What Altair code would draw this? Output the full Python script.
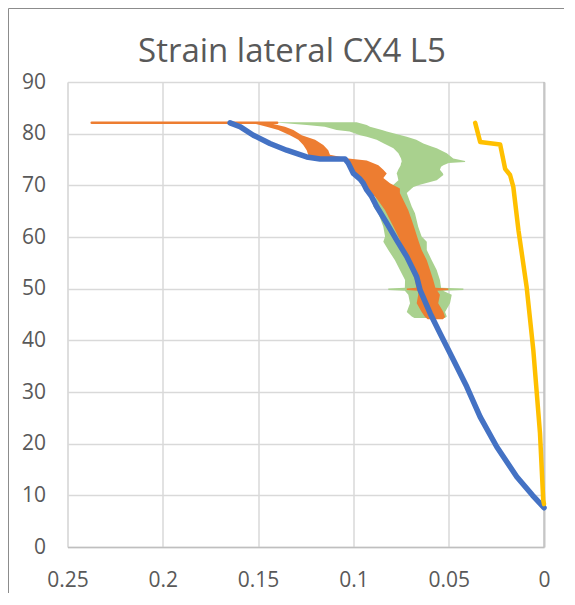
import altair as alt
import pandas as pd

TITLE = "Strain lateral CX4 L5"
x_ticks = [0.25, 0.2, 0.15, 0.1, 0.05, 0]
y_ticks = [0, 10, 20, 30, 40, 50, 60, 70, 80, 90]

# Blue series (x = strain, y = load)
blue_x = [0.0, 0.006, 0.0143, 0.0248, 0.0335, 0.0405, 0.0475, 0.0545, 0.0597, 0.065,
          0.0668, 0.072, 0.0773, 0.0825, 0.0878, 0.0904, 0.093, 0.0948, 0.0965, 0.1,
          0.1027, 0.1044, 0.1175, 0.1245, 0.135, 0.1438, 0.1525, 0.1595, 0.1647]
blue_y = [7.6, 10.0, 13.6, 19.4, 25.2, 31.0, 36.2, 41.3, 45.2, 49.7,
          52.3, 56.2, 59.4, 62.7, 65.9, 67.8, 69.1, 70.4, 71.2, 72.3,
          74.3, 75.1, 75.1, 75.5, 76.8, 78.1, 79.7, 81.35, 82.1]

# Yellow series
yellow_x = [0.0, 0.0004, 0.0021, 0.0056, 0.0091, 0.0134, 0.0161, 0.0178, 0.0204, 0.023, 0.0335, 0.0361]
yellow_y = [8.3, 9.1, 22.0, 38.1, 50.3, 61.3, 69.7, 72.0, 73.2, 77.9, 78.4, 82.1]

# Orange series: flat top segment and noisy band (band edges per load level)
orange_line_x = [0.2373, 0.14]
orange_line_y = [82.1, 82.1]
orange_band_y = [44.1, 44.5, 45.5, 47.2, 48.8, 49.6, 49.75, 50.05, 50.2, 51.7, 53.6, 55.5,
                 57.5, 59.4, 61.4, 63.3, 65.2, 67.3, 68.5, 69.4, 70.4, 71.4, 72.3, 73.0,
                 73.9, 74.8, 75.2, 75.9, 76.8, 77.8, 78.8, 79.7, 80.7, 81.35, 82.0]
orange_band_lo = [0.053, 0.0519, 0.0528, 0.0555, 0.0546, 0.056, 0.0502, 0.0502, 0.057, 0.0581, 0.0598, 0.0615,
                  0.0642, 0.066, 0.0677, 0.0694, 0.0712, 0.074, 0.0756, 0.0756, 0.0808, 0.0843, 0.0825, 0.0843,
                  0.0869, 0.093, 0.1027, 0.1123, 0.1132, 0.1158, 0.1201, 0.1271, 0.1315, 0.1359, 0.1438]
orange_band_hi = [0.061, 0.0624, 0.0642, 0.0668, 0.066, 0.066, 0.072, 0.072, 0.067, 0.0677, 0.0694, 0.0712,
                  0.0738, 0.0756, 0.0782, 0.0808, 0.0834, 0.0875, 0.0904, 0.093, 0.0948, 0.0965, 0.0992, 0.1009,
                  0.1027, 0.1035, 0.1228, 0.1237, 0.1245, 0.1263, 0.1289, 0.1333, 0.1394, 0.1455, 0.1525]

# Green series: noisy band, lower part and upper blob
green_low_y = [44.3, 44.6, 45.5, 47.2, 48.8, 49.6, 49.75, 50.05, 50.2, 51.7, 53.6, 55.5,
               57.5, 59.1, 60.1, 62.0, 64.6, 65.9, 68.5, 69.7]
green_low_lo = [0.052, 0.051, 0.0519, 0.0493, 0.0484, 0.053, 0.0423, 0.0423, 0.054, 0.0546, 0.0563, 0.0589,
                0.0615, 0.0615, 0.0642, 0.066, 0.0677, 0.0694, 0.072, 0.0686]
green_low_hi = [0.068, 0.0694, 0.072, 0.0703, 0.0712, 0.073, 0.0817, 0.0817, 0.073, 0.0729, 0.0756, 0.0782,
                0.0817, 0.0843, 0.0834, 0.0843, 0.0869, 0.0896, 0.0878, 0.089]
green_top_y = [69.5, 70.1, 71.0, 72.0, 72.3, 73.0, 73.6, 73.9, 74.3, 74.5, 74.7, 75.2,
               76.2, 77.2, 77.5, 78.1, 78.8, 79.4, 79.7, 80.4, 80.7, 81.35, 81.7, 82.2]
green_top_lo = [0.070, 0.0651, 0.0563, 0.0528, 0.053, 0.0546, 0.054, 0.0528, 0.05, 0.0414, 0.0414, 0.0476,
                0.051, 0.0563, 0.059, 0.0633, 0.067, 0.072, 0.075, 0.0825, 0.085, 0.0913, 0.093, 0.0983]
green_top_hi = [0.080, 0.079, 0.0764, 0.077, 0.0773, 0.0765, 0.0756, 0.0752, 0.075, 0.0747, 0.0747, 0.075,
                0.0764, 0.079, 0.0808, 0.084, 0.0878, 0.093, 0.0965, 0.102, 0.1088, 0.115, 0.1245, 0.142]

BLUE = "#4472C4"
ORANGE = "#ED7D31"
GREEN = "#A9D18E"
YELLOW = "#FFC000"
TXT = "#595959"
FONT = "Open Sans"

PLOT_W = 476.5
PLOT_H = 465

xscale = alt.Scale(domain=[0, 0.25], reverse=True, nice=False, zero=False)
yscale = alt.Scale(domain=[0, 90], nice=False, zero=False)

xaxis = alt.Axis(values=x_ticks, format="~g", title=None, grid=True, gridColor="#D9D9D9",
                 gridWidth=1.5, domain=True, domainColor="#BFBFBF", domainWidth=1.5,
                 ticks=False, labelFont=FONT, labelFontSize=21, labelColor=TXT,
                 labelPadding=22, labelFlush=False)
yaxis = alt.Axis(values=y_ticks, format="d", title=None, grid=True, gridColor="#D9D9D9",
                 gridWidth=1.5, domain=False, ticks=False, labelFont=FONT, labelFontSize=21,
                 labelColor=TXT, labelPadding=22, labelFlush=False)


def X(field):
    return alt.X(field, type="quantitative", scale=xscale, axis=xaxis)


def Y(field):
    return alt.Y(field, type="quantitative", scale=yscale, axis=yaxis)


df_blue = pd.DataFrame({"x": blue_x, "y": blue_y, "i": range(len(blue_x))})
df_yellow = pd.DataFrame({"x": yellow_x, "y": yellow_y, "i": range(len(yellow_x))})
df_oline = pd.DataFrame({"x": orange_line_x, "y": orange_line_y, "i": range(len(orange_line_x))})
df_oband = pd.DataFrame({"y": orange_band_y, "lo": orange_band_lo, "hi": orange_band_hi})
df_glow = pd.DataFrame({"y": green_low_y, "lo": green_low_lo, "hi": green_low_hi})
df_gtop = pd.DataFrame({"y": green_top_y, "lo": green_top_lo, "hi": green_top_hi})

one = pd.DataFrame({"k": [0]})
frame_left = alt.Chart(one).mark_rule(color="#8C8C8C", strokeWidth=1).encode(
    x=alt.value(-59), y=alt.value(-73.5), y2=alt.value(PLOT_H + 60)
)
frame_top = alt.Chart(one).mark_rule(color="#8C8C8C", strokeWidth=1).encode(
    x=alt.value(-59), x2=alt.value(PLOT_W + 40), y=alt.value(-73.5)
)

title_txt = alt.Chart(pd.DataFrame({"t": [TITLE]})).mark_text(
    font=FONT, fontSize=33, color=TXT, align="center", baseline="alphabetic"
).encode(text="t:N", x=alt.value(224.5), y=alt.value(-20))

zero_line = alt.Chart(pd.DataFrame({"x": [0.0]})).mark_rule(
    color="#BFBFBF", strokeWidth=1.5
).encode(x=X("x"))


def band(df, color):
    return alt.Chart(df).mark_area(orient="horizontal", color=color, opacity=1,
                                   interpolate="linear").encode(
        y=Y("y"), x=X("lo"), x2=alt.X2("hi")
    )


def line(df, color, width):
    return alt.Chart(df).mark_line(color=color, strokeWidth=width, strokeCap="round",
                                   strokeJoin="round").encode(
        x=X("x"), y=Y("y"), order=alt.Order("i:Q")
    )


chart = alt.layer(
    frame_left,
    frame_top,
    title_txt,
    zero_line,
    band(df_glow, GREEN),
    band(df_gtop, GREEN),
    band(df_oband, ORANGE),
    line(df_oline, ORANGE, 2.5),
    line(df_blue, BLUE, 5.5),
    line(df_yellow, YELLOW, 4.5),
).properties(
    width=PLOT_W,
    height=PLOT_H,
    autosize=alt.AutoSizeParams(type="none"),
    padding={"left": 59.5, "top": 74, "right": 20, "bottom": 46},
).configure_view(stroke=None).configure(background="white")

chart.save("out.html", embed_options={"renderer": "svg", "actions": False})
